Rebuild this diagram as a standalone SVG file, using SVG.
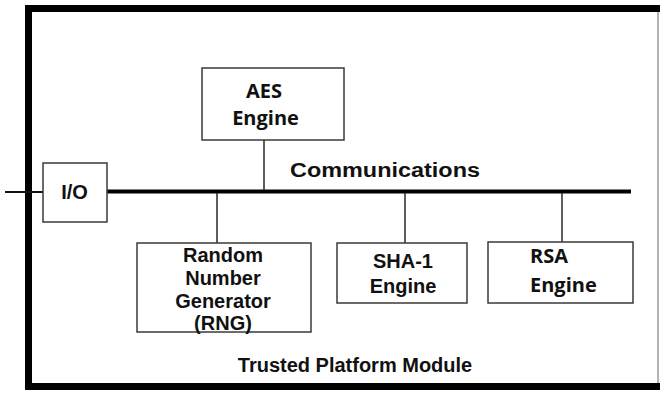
<svg xmlns="http://www.w3.org/2000/svg" width="660" height="394" viewBox="0 0 660 394">
<style>
.box{fill:#fff;stroke:#3a3a3a;stroke-width:1.5}
.ln{stroke:#2a2a2a;stroke-width:1.5;fill:none}
.bus{stroke:#000;stroke-width:4;fill:none}
.frame{stroke:#000;stroke-width:7;fill:none}
.a{font-family:"Liberation Sans",Arial,sans-serif;font-weight:bold;font-size:20px;fill:#111;text-anchor:middle}
.c{font-family:"Open Sans","Noto Sans",sans-serif;font-weight:bold;font-size:20px;fill:#111}
</style>
<rect width="660" height="394" fill="#fff"/>
<g id="frame">
<path class="frame" d="M25 8.5H660M28.5 5V390M25 386.5H660"/>
<path d="M658 12V383" stroke="#9a9a9a" stroke-width="1.5" fill="none"/>
<text class="a" x="355" y="372">Trusted Platform Module</text>
</g>
<g id="connectors">
<path d="M5 192H43" stroke="#111" stroke-width="2" fill="none"/>
<path class="bus" d="M107 191.5H631"/>
<path class="ln" d="M264 140V190M217 193V243M405 193V243M562 193V242"/>
<text class="a" x="385" y="177" textLength="190" lengthAdjust="spacingAndGlyphs">Communications</text>
</g>
<g id="io">
<rect class="box" x="43" y="163" width="64" height="59"/>
<text class="a" x="74.5" y="199">I/O</text>
</g>
<g id="aes">
<rect class="box" x="202" y="68" width="142" height="72"/>
<text class="c" x="264" y="98" text-anchor="middle">AES</text>
<text class="c" x="265.5" y="125" text-anchor="middle">Engine</text>
</g>
<g id="rng">
<rect class="box" x="137" y="243" width="174" height="89"/>
<text class="a" x="223" y="262">Random</text>
<text class="a" x="223" y="285">Number</text>
<text class="a" x="223" y="308">Generator</text>
<text class="a" x="223" y="330">(RNG)</text>
</g>
<g id="sha">
<rect class="box" x="337" y="243" width="130" height="60"/>
<text class="a" x="403" y="268">SHA-1</text>
<text class="a" x="403" y="293">Engine</text>
</g>
<g id="rsa">
<rect class="box" x="488" y="242" width="145" height="61"/>
<text class="c" x="530" y="263">RSA</text>
<text class="c" x="530" y="292">Engine</text>
</g>
</svg>
